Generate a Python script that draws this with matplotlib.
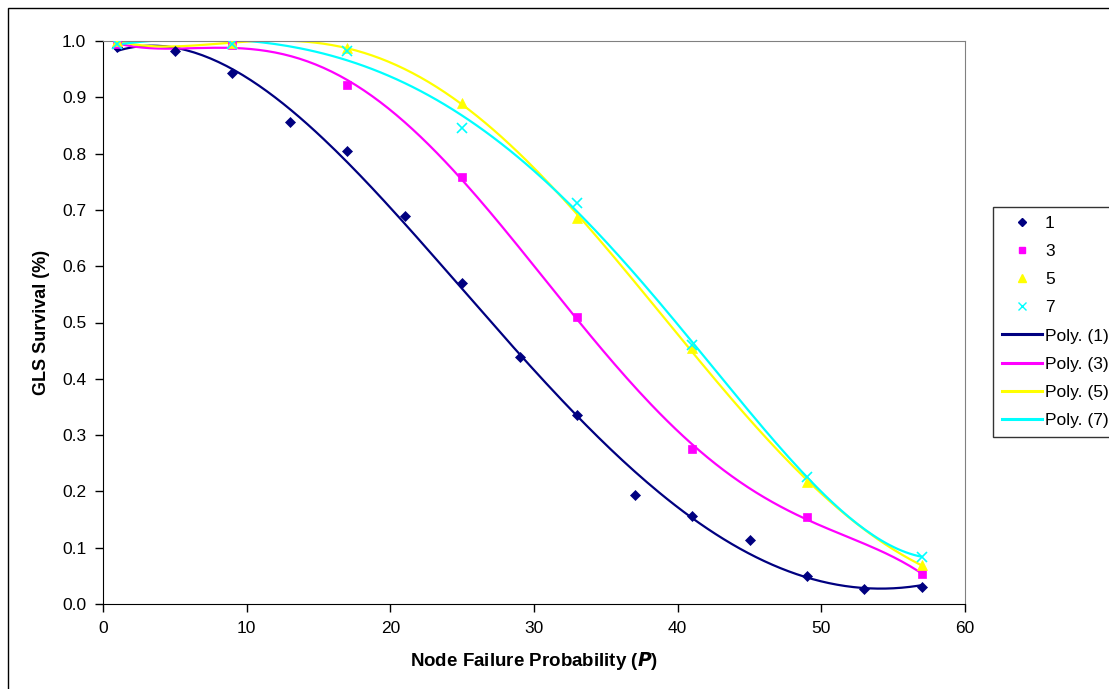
import matplotlib
matplotlib.use("Agg")
import matplotlib.pyplot as plt
import numpy as np
from matplotlib.lines import Line2D
from matplotlib.patches import Rectangle

plt.rcParams["font.family"] = ["Liberation Sans", "DejaVu Sans"]

# data
x_1 = [1, 5, 9, 13, 17, 21, 25, 29, 33, 37, 41, 45, 49, 53, 57]
y_1 = [0.990, 0.983, 0.944, 0.857, 0.805, 0.690, 0.570, 0.439, 0.336,
       0.194, 0.157, 0.113, 0.050, 0.026, 0.030]
x_odd = [1, 9, 17, 25, 33, 41, 49, 57]
y_3 = [0.995, 0.993, 0.921, 0.759, 0.510, 0.275, 0.155, 0.053]
y_5 = [1.000, 0.996, 0.988, 0.890, 0.685, 0.455, 0.217, 0.069]
y_7 = [0.995, 0.995, 0.983, 0.845, 0.713, 0.460, 0.226, 0.084]

# name, x, y, colour, marker, marker size, trendline order
SERIES = [
    ("1", x_1, y_1, "#000080", "D", 5.5, 4),
    ("3", x_odd, y_3, "#FF00FF", "s", 5.5, 5),
    ("5", x_odd, y_5, "#FFFF00", "^", 7, 5),
    ("7", x_odd, y_7, "#00FFFF", "x", 7, 5),
]

W, H = 1109, 689
fig = plt.figure(figsize=(W / 100, H / 100), dpi=100)
fig.patches.append(Rectangle((8 / W, -0.01), 1.1, 1 - 8 / H + 0.01,
                             transform=fig.transFigure, fill=False,
                             edgecolor="black", linewidth=1))

left, right, top, bottom = 103, 965, 41, 604
ax = fig.add_axes([left / W, 1 - bottom / H, (right - left) / W, (bottom - top) / H])

handles_pts, handles_lines = [], []
for name, xs, ys, color, marker, ms, order in SERIES:
    ax.plot(xs, ys, linestyle="none", marker=marker, color=color,
            markersize=ms, markeredgewidth=1.2 if marker == "x" else 0.5,
            zorder=3)
    coef = np.polyfit(xs, ys, order)
    xx = np.linspace(min(xs), max(xs), 200)
    ax.plot(xx, np.polyval(coef, xx), color=color, linewidth=1.6, zorder=2)
    handles_pts.append(Line2D([], [], linestyle="none", marker=marker, color=color,
                              markersize=ms - 1, markeredgewidth=1.0))
    handles_lines.append(Line2D([], [], color=color, linewidth=2.2))

ax.set_xlim(0, 60)
ax.set_ylim(0, 1.0)
ax.set_xticks(range(0, 61, 10))
ax.set_yticks(np.arange(0, 1.01, 0.1))
ax.set_yticklabels([f"{v:.1f}" for v in np.arange(0, 1.01, 0.1)])
ax.tick_params(direction="out", length=6, width=1, labelsize=12.5, pad=6)
for s in ["top", "right"]:
    ax.spines[s].set_color("#808080")
for s in ["left", "bottom"]:
    ax.spines[s].set_color("black")

ax.set_xlabel(r"Node Failure Probability ($\boldsymbol{P}$)", fontsize=13.5,
              fontweight="bold", labelpad=10)
ax.set_ylabel("GLS Survival (%)", fontsize=13, fontweight="bold", labelpad=9)

labels = [s[0] for s in SERIES] + [f"Poly. ({s[0]})" for s in SERIES]
leg = fig.legend(handles_pts + handles_lines, labels, loc="upper left",
                 bbox_to_anchor=(993 / W, 1 - 207 / H), fontsize=12.5,
                 frameon=True, fancybox=False, edgecolor="black",
                 handlelength=2.3, handletextpad=0.2, labelspacing=0.75,
                 borderpad=0.5, borderaxespad=0)
leg.get_frame().set_linewidth(1)

fig.savefig("out.png", dpi=100)
